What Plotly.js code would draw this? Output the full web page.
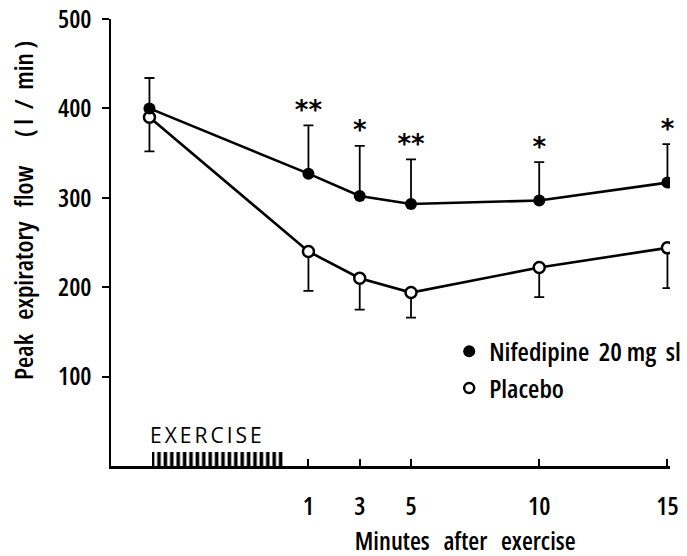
<!DOCTYPE html>
<html>
<head>
<meta charset="utf-8">
<script src="https://cdn.plot.ly/plotly-3.0.1.min.js"></script>
<style>
body{margin:0;background:#fff}
#chart{width:687px;height:556px}
#chart svg text{font-stretch:75% !important;font-weight:600 !important;}
#chart .annotation[data-index="0"] text{letter-spacing:3px;font-stretch:100% !important;font-weight:500 !important;}
#chart .textpoint text{font-stretch:100% !important;font-weight:700 !important;}
</style>
</head>
<body>
<div id="chart"></div>
<script>
// Data (minutes after exercise; first point = pre-exercise baseline)
const timePoints = [-5.2, 1, 3, 5, 10, 15];
const nifedipineMean = [400, 327, 302, 293, 297, 317];
const nifedipineErr = [34, 54, 56, 50, 43, 43];
const placeboMean = [390, 240, 210, 194, 222, 244];
const placeboErr = [38, 44, 35, 28, 33, 45];
const significance = ["", "**", "*", "**", "*", "*"];
const xTickVals = [1, 3, 5, 10, 15];
const xTickText = ["1", "3", "5", "10", "15"];
const yTickVals = [100, 200, 300, 400, 500];
const exercisePeriod = [-5.1, 0.05]; // start, end (min)
const exerciseBarHeight = [16];

const FONT = '"Open Sans", "DejaVu Sans Condensed", sans-serif';
const f = (size) => ({family: FONT, size: size, color: 'black'});

const sigY = nifedipineMean.map((m, i) => m + nifedipineErr[i]);
const nb = '\u00a0';
const sp = (n) => nb.repeat(n);

const traces = [
  {
    x: [(exercisePeriod[0] + exercisePeriod[1]) / 2],
    y: exerciseBarHeight,
    width: [exercisePeriod[1] - exercisePeriod[0]],
    type: 'bar',
    showlegend: false,
    hoverinfo: 'skip',
    marker: {
      color: 'white',
      line: {width: 0},
      pattern: {shape: '|', size: 6.4, solidity: 0.55, fgcolor: 'black', bgcolor: 'white', fillmode: 'replace'}
    }
  },
  {
    x: timePoints, y: placeboMean,
    type: 'scatter', mode: 'lines+markers',
    name: 'Placebo', showlegend: false,
    line: {color: 'black', width: 2.6},
    marker: {symbol: 'circle', size: 11, color: 'white', line: {color: 'black', width: 2.5}},
    error_y: {type: 'data', symmetric: false, array: placeboErr.map(() => 0), arrayminus: placeboErr,
              color: 'black', thickness: 1.8, width: 5}
  },
  {
    x: timePoints, y: nifedipineMean,
    type: 'scatter', mode: 'lines+markers',
    name: 'Nifedipine 20 mg sl', showlegend: false,
    line: {color: 'black', width: 2.6},
    marker: {symbol: 'circle', size: 12, color: 'black', line: {color: 'black', width: 0}},
    error_y: {type: 'data', symmetric: false, array: nifedipineErr, arrayminus: nifedipineErr.map(() => 0),
              color: 'black', thickness: 1.8, width: 5}
  },
  {
    x: timePoints, y: sigY,
    type: 'scatter', mode: 'text',
    text: significance,
    textposition: 'top center',
    textfont: {family: 'DejaVu Sans', size: 26, color: 'black', weight: 'bold'},
    showlegend: false, hoverinfo: 'skip', cliponaxis: false
  },
  // legend entries (markers only)
  {
    x: [null], y: [null], type: 'scatter', mode: 'markers',
    name: 'Nifedipine' + sp(2) + '20' + sp(1) + 'mg' + sp(2) + 'sl', legendgroup: 'a',
    marker: {symbol: 'circle', size: 12, color: 'black'}
  },
  {
    x: [null], y: [null], type: 'scatter', mode: 'markers',
    name: 'Placebo', legendgroup: 'b',
    marker: {symbol: 'circle', size: 10, color: 'white', line: {color: 'black', width: 2.5}}
  }
];

const layout = {
  width: 687, height: 556,
  margin: {l: 111, r: 17, t: 19, b: 90, autoexpand: false},
  paper_bgcolor: 'white', plot_bgcolor: 'white',
  font: f(24),
  showlegend: true,
  legend: {
    x: 0.605, y: 0.309, xanchor: 'left', yanchor: 'top',
    traceorder: 'grouped', tracegroupgap: 0,
    font: f(26),
    bgcolor: 'rgba(0,0,0,0)', borderwidth: 0, itemwidth: 30
  },
  bargap: 0,
  xaxis: {
    range: [-6.7, 15.1],
    showgrid: false, zeroline: false,
    showline: true, linecolor: 'black', linewidth: 2.5,
    ticks: 'inside', ticklen: 7, tickwidth: 2, tickcolor: 'black',
    tickvals: xTickVals, ticktext: xTickText,
    ticklabelstandoff: 16,
    tickfont: f(25),
    fixedrange: true
  },
  yaxis: {
    range: [0, 500],
    showgrid: false, zeroline: false,
    showline: true, linecolor: 'black', linewidth: 2.5,
    ticks: 'outside', ticklen: 7, tickwidth: 2, tickcolor: 'black',
    tickvals: yTickVals,
    ticklabelstandoff: 5,
    tickfont: f(25),
    fixedrange: true
  },
  annotations: [
    {
      text: 'EXERCISE', xref: 'x', yref: 'y', x: -2.95, y: 35,
      xanchor: 'center', yanchor: 'middle', showarrow: false,
      font: f(21)
    },
    {
      text: 'Minutes' + sp(3) + 'after' + sp(3) + 'exercise', xref: 'paper', yref: 'paper',
      x: (465 - 111) / 559, y: -(540 - 466) / 447, xanchor: 'center', yanchor: 'middle',
      showarrow: false, font: f(25)
    },
    {
      text: 'Peak' + sp(3) + 'expiratory' + sp(3) + 'flow' + sp(6) + '(' + sp(1) + 'l' + sp(2) + '/' + sp(2) + 'min' + sp(1) + ')',
      xref: 'paper', yref: 'paper',
      x: (23 - 111) / 559, y: (466 - 211) / 447, xanchor: 'center', yanchor: 'middle',
      textangle: -90, showarrow: false, font: f(26)
    }
  ]
};

Plotly.newPlot('chart', traces, layout, {staticPlot: true, displayModeBar: false});
</script>
</body>
</html>
